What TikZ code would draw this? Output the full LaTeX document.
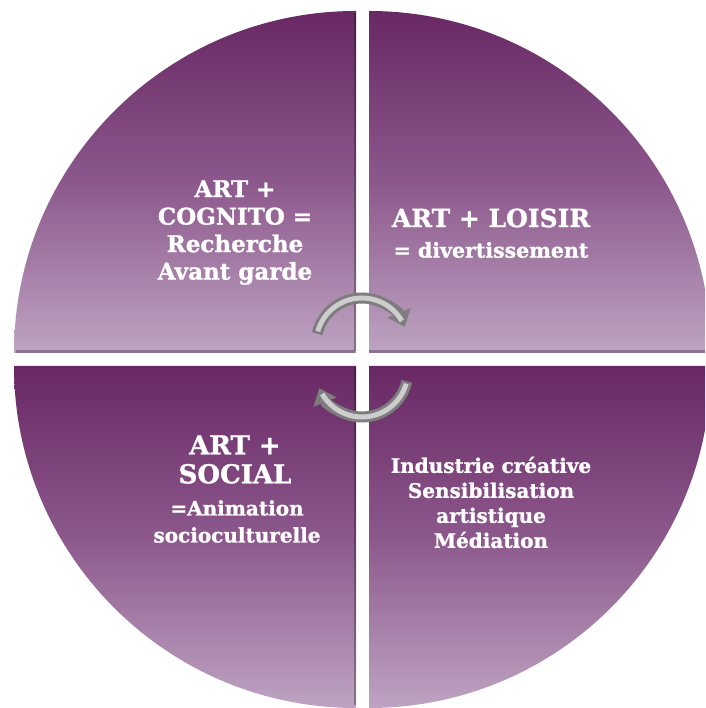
\documentclass[tikz,border=0pt]{standalone}
\usepackage{fontspec}
\setmainfont{DejaVu Serif}[BoldFeatures={FakeBold=1.2}]
\usetikzlibrary{arrows.meta}
\definecolor{plumdark}{RGB}{104,40,100}
\definecolor{plummid}{RGB}{140,88,140}
\definecolor{plumlight}{RGB}{190,164,194}
\definecolor{tubedark}{RGB}{125,125,125}
\definecolor{tubelight}{RGB}{205,205,205}
\begin{document}
\begin{tikzpicture}[x=1pt,y=1pt,
  quad/.style={top color=plumdark, bottom color=plumlight, middle color=plummid},
  edgeshade/.style={black, opacity=.28, line width=2.5},
  lbl/.style={text=white, align=center, inner sep=0},
  tubeout/.style={tubedark, line width=11, -{Triangle[width=24,length=15]}},
  tubein/.style={tubelight, line width=5}]
\useasboundingbox (0,0) rectangle (705,708);
\clip (0,0) rectangle (705,708);
% quadrants
\path[quad] (356,355) -- (14,355) arc[start angle=180,end angle=90,radius=342] -- cycle;
\path[quad] (369,355) -- (369,697) arc[start angle=90,end angle=0,radius=342] -- cycle;
\path[quad] (356,342) -- (14,342) arc[start angle=180,end angle=270,radius=342] -- cycle;
\path[quad] (369,342) -- (711,342) arc[start angle=0,end angle=-90,radius=342] -- cycle;
% edge shadows
\draw[edgeshade] (355,356.5) -- (355,695);
\draw[edgeshade] (16,356.5) -- (355,356.5);
\draw[edgeshade] (369,356.5) -- (705,356.5);
\draw[edgeshade] (355,3) -- (355,341);
% cycle arrows
\coordinate (ta) at (362,364);
\coordinate (ba) at (362,337);
\draw[tubeout] ([shift={(167:46)}]ta) arc[start angle=167,end angle=22,radius=46];
\draw[tubein] ([shift={(164:46)}]ta) arc[start angle=164,end angle=30,radius=46];
\draw[tubeout] ([shift={(-13:46)}]ba) arc[start angle=-13,end angle=-158,radius=46];
\draw[tubein] ([shift={(-16:46)}]ba) arc[start angle=-16,end angle=-150,radius=46];
% labels
\node[lbl, font=\bfseries\fontsize{23}{27.5}\selectfont] (cog) at (235,475.5)
  {ART +\\COGNITO =\\Recherche\\Avant garde};
\node[lbl, font=\bfseries\fontsize{25}{27}\selectfont] (loi1) at (491,490) {ART + LOISIR};
\node[lbl, font=\bfseries\fontsize{20.5}{22}\selectfont] (loi2) at (491,458) {= divertissement};
\node[lbl, font=\bfseries\fontsize{26}{29}\selectfont] (soc1) at (235,248.5) {ART +\\SOCIAL};
\node[lbl, font=\bfseries\fontsize{20}{27}\selectfont] (soc2) at (237,186.5) {=Animation\\socioculturelle};
\node[lbl, font=\bfseries\fontsize{20}{25}\selectfont] (ind) at (491,205.5)
  {Industrie créative\\Sensibilisation\\artistique\\Médiation};
\end{tikzpicture}
\end{document}
